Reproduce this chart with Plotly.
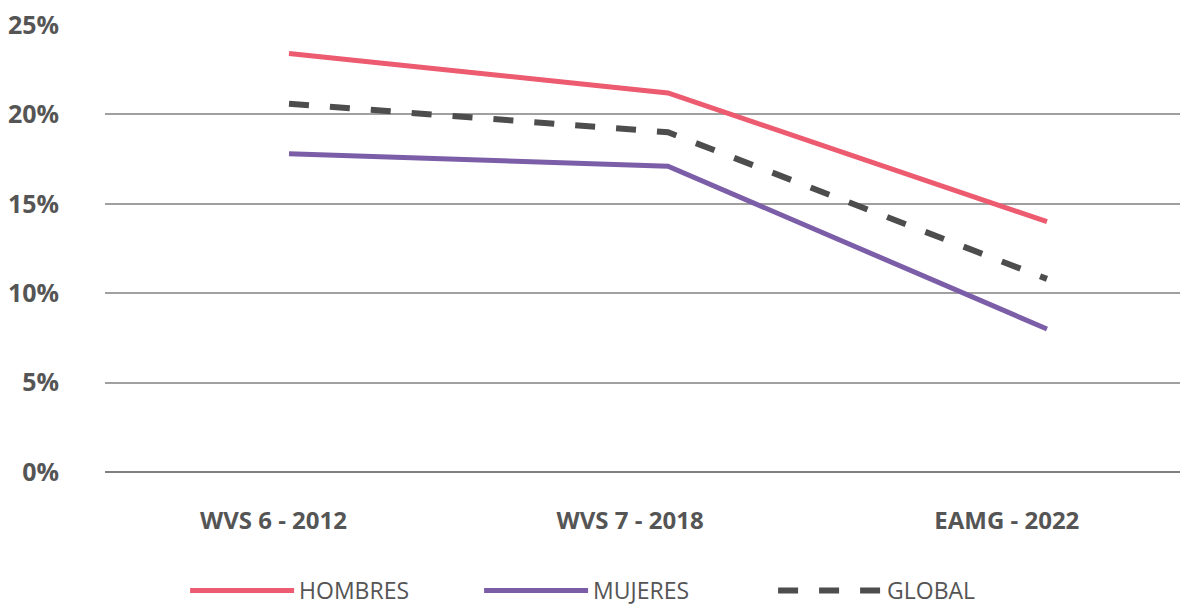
import plotly.graph_objects as go

# ---- data ----
categories = ["WVS 6 - 2012", "WVS 7 - 2018", "EAMG - 2022"]
hombres = [23.4, 21.2, 14.0]
mujeres = [17.8, 17.1, 8.0]
global_ = [20.6, 19.0, 10.8]
y_ticks = [0, 5, 10, 15, 20, 25]
y_tick_labels = ["0%", "5%", "10%", "15%", "20%", "25%"]

# label placement offsets (layout only, in category units)
label_shift = [-0.041, -0.100, -0.106]

FONT = "Open Sans"
GREY = "#555555"

xs = list(range(len(categories)))

fig = go.Figure()
fig.add_trace(go.Scatter(x=xs, y=hombres, name="HOMBRES", mode="lines",
                         line=dict(color="#EC5B6F", width=5)))
fig.add_trace(go.Scatter(x=xs, y=mujeres, name="MUJERES", mode="lines",
                         line=dict(color="#7B5EA7", width=5)))
fig.add_trace(go.Scatter(x=xs, y=global_, name="GLOBAL", mode="lines",
                         line=dict(color="#4D4D4D", width=6, dash="20px,21px")))

fig.update_layout(
    width=1180, height=607,
    margin=dict(l=105, r=0, t=25, b=135, autoexpand=False),
    paper_bgcolor="white", plot_bgcolor="white",
    showlegend=True,
    legend=dict(orientation="h", x=0.0745, xanchor="left", y=-0.265, yanchor="middle",
                font=dict(family=FONT, size=23, color=GREY),
                itemwidth=104,
                entrywidth=175, entrywidthmode="pixels"),
    xaxis=dict(range=[-0.4855, 2.351], showgrid=False, zeroline=False,
               tickvals=[i + s for i, s in zip(xs, label_shift)], ticktext=categories,
               ticks="", ticklabelstandoff=32,
               tickfont=dict(family=FONT, size=24, color=GREY, weight="bold")),
    yaxis=dict(range=[0, 25], tickvals=y_ticks, ticktext=y_tick_labels,
               showgrid=True, gridcolor="#a0a0a0", gridwidth=1.5,
               zeroline=True, zerolinecolor="#7f7f7f", zerolinewidth=1.5,
               ticks="", ticklabelstandoff=45,
               tickfont=dict(family=FONT, size=25, color=GREY, weight="bold")),
)

fig.write_html("out.html", config={"displayModeBar": False},
               post_script="document.body.style.margin='0';document.body.style.overflow='hidden';")
